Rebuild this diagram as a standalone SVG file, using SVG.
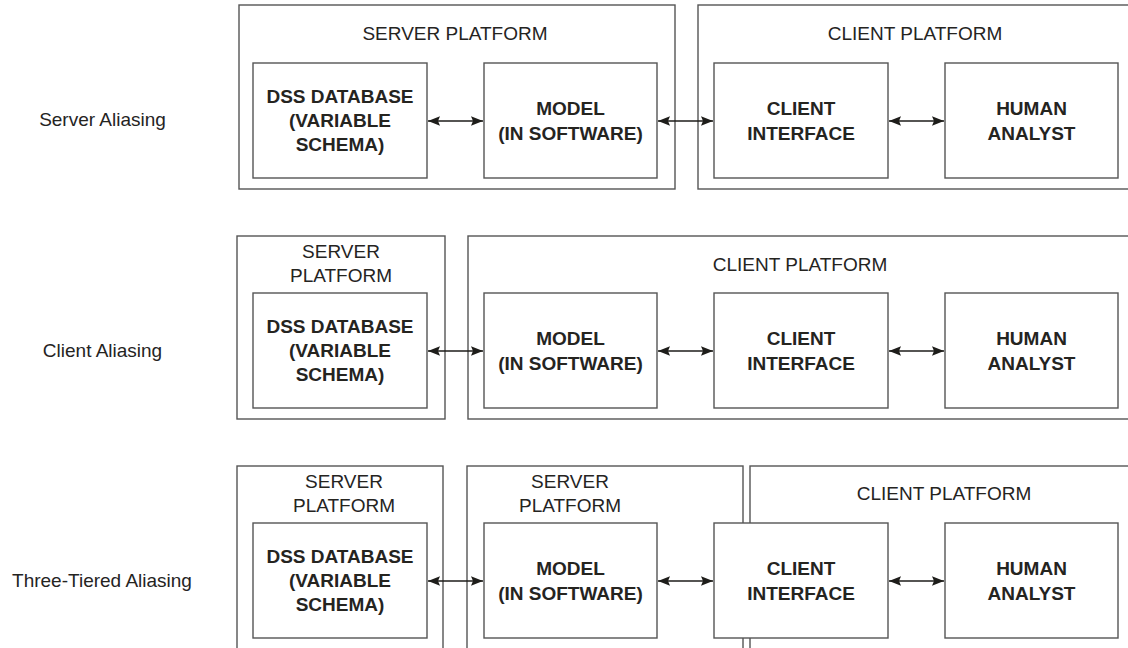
<svg xmlns="http://www.w3.org/2000/svg" width="1128" height="648" viewBox="0 0 1128 648">
<defs>
<style>
.plat{fill:none;stroke:#555;stroke-width:1.4}
.box{fill:#fff;stroke:#555;stroke-width:1.4}
.lbl{font-family:"Liberation Sans",Arial,sans-serif;font-size:19px;fill:#25241f;text-anchor:middle}
.bold{font-weight:bold}
.conn{stroke:#1e1d1a;stroke-width:1.6;fill:none;marker-start:url(#ah);marker-end:url(#ah)}
</style>
<marker id="ah" markerUnits="userSpaceOnUse" markerWidth="13" markerHeight="11" refX="12" refY="5.5" orient="auto-start-reverse">
<path d="M0,0.8 L12,5.5 L0,10.2 L2,5.5 Z" fill="#1e1d1a"/>
</marker>
</defs>
<rect width="1128" height="648" fill="#fff"/>

<g id="side-labels">
<text class="lbl" x="102.5" y="126">Server Aliasing</text>
<text class="lbl" x="102.5" y="356.5">Client Aliasing</text>
<text class="lbl" x="102" y="587">Three-Tiered Aliasing</text>
</g>

<!-- Row 1: Server Aliasing -->
<g id="r1-server-platform">
<rect class="plat" x="239" y="5" width="436" height="184"/>
<text class="lbl" x="455" y="40">SERVER PLATFORM</text>
</g>
<g id="r1-client-platform">
<rect class="plat" x="698" y="5" width="440" height="184"/>
<text class="lbl" x="915" y="40">CLIENT PLATFORM</text>
</g>
<g id="r1-dss">
<rect class="box" x="253" y="63" width="174" height="115"/>
<text class="lbl bold" x="340" y="102.5">DSS DATABASE</text>
<text class="lbl bold" x="340" y="126.5">(VARIABLE</text>
<text class="lbl bold" x="340" y="150.5">SCHEMA)</text>
</g>
<g id="r1-model">
<rect class="box" x="484" y="63" width="173" height="115"/>
<text class="lbl bold" x="570.5" y="115">MODEL</text>
<text class="lbl bold" x="570.5" y="139.5">(IN SOFTWARE)</text>
</g>
<g id="r1-client">
<rect class="box" x="714" y="63" width="174" height="115"/>
<text class="lbl bold" x="801" y="115">CLIENT</text>
<text class="lbl bold" x="801" y="139.5">INTERFACE</text>
</g>
<g id="r1-human">
<rect class="box" x="945" y="63" width="173" height="115"/>
<text class="lbl bold" x="1031.5" y="115">HUMAN</text>
<text class="lbl bold" x="1031.5" y="139.5">ANALYST</text>
</g>

<!-- Row 2: Client Aliasing -->
<g id="r2-server-platform">
<rect class="plat" x="237" y="236" width="208" height="183"/>
<text class="lbl" x="341" y="258">SERVER</text>
<text class="lbl" x="341" y="282">PLATFORM</text>
</g>
<g id="r2-client-platform">
<rect class="plat" x="468" y="236" width="670" height="183"/>
<text class="lbl" x="800" y="271">CLIENT PLATFORM</text>
</g>
<g id="r2-dss">
<rect class="box" x="253" y="293" width="174" height="115"/>
<text class="lbl bold" x="340" y="332.5">DSS DATABASE</text>
<text class="lbl bold" x="340" y="356.5">(VARIABLE</text>
<text class="lbl bold" x="340" y="380.5">SCHEMA)</text>
</g>
<g id="r2-model">
<rect class="box" x="484" y="293" width="173" height="115"/>
<text class="lbl bold" x="570.5" y="345">MODEL</text>
<text class="lbl bold" x="570.5" y="369.5">(IN SOFTWARE)</text>
</g>
<g id="r2-client">
<rect class="box" x="714" y="293" width="174" height="115"/>
<text class="lbl bold" x="801" y="345">CLIENT</text>
<text class="lbl bold" x="801" y="369.5">INTERFACE</text>
</g>
<g id="r2-human">
<rect class="box" x="945" y="293" width="173" height="115"/>
<text class="lbl bold" x="1031.5" y="345">HUMAN</text>
<text class="lbl bold" x="1031.5" y="369.5">ANALYST</text>
</g>

<!-- Row 3: Three-Tiered Aliasing -->
<g id="r3-server-platform-1">
<rect class="plat" x="237" y="466" width="206" height="200"/>
<text class="lbl" x="344" y="488">SERVER</text>
<text class="lbl" x="344" y="512">PLATFORM</text>
</g>
<g id="r3-server-platform-2">
<rect class="plat" x="467" y="466" width="276" height="200"/>
<text class="lbl" x="570" y="488">SERVER</text>
<text class="lbl" x="570" y="512">PLATFORM</text>
</g>
<g id="r3-client-platform">
<rect class="plat" x="750" y="466" width="390" height="200"/>
<text class="lbl" x="944" y="500">CLIENT PLATFORM</text>
</g>
<g id="r3-dss">
<rect class="box" x="253" y="523" width="174" height="115"/>
<text class="lbl bold" x="340" y="562.5">DSS DATABASE</text>
<text class="lbl bold" x="340" y="586.5">(VARIABLE</text>
<text class="lbl bold" x="340" y="610.5">SCHEMA)</text>
</g>
<g id="r3-model">
<rect class="box" x="484" y="523" width="173" height="115"/>
<text class="lbl bold" x="570.5" y="575">MODEL</text>
<text class="lbl bold" x="570.5" y="599.5">(IN SOFTWARE)</text>
</g>
<g id="r3-client">
<rect class="box" x="714" y="523" width="174" height="115"/>
<text class="lbl bold" x="801" y="575">CLIENT</text>
<text class="lbl bold" x="801" y="599.5">INTERFACE</text>
</g>
<g id="r3-human">
<rect class="box" x="945" y="523" width="173" height="115"/>
<text class="lbl bold" x="1031.5" y="575">HUMAN</text>
<text class="lbl bold" x="1031.5" y="599.5">ANALYST</text>
</g>

<g id="connectors">
<line class="conn" x1="428" y1="121" x2="483" y2="121"/>
<line class="conn" x1="658" y1="121" x2="713" y2="121"/>
<line class="conn" x1="889" y1="121" x2="944" y2="121"/>
<line class="conn" x1="428" y1="351" x2="483" y2="351"/>
<line class="conn" x1="658" y1="351" x2="713" y2="351"/>
<line class="conn" x1="889" y1="351" x2="944" y2="351"/>
<line class="conn" x1="428" y1="581" x2="483" y2="581"/>
<line class="conn" x1="658" y1="581" x2="713" y2="581"/>
<line class="conn" x1="889" y1="581" x2="944" y2="581"/>
</g>
</svg>
